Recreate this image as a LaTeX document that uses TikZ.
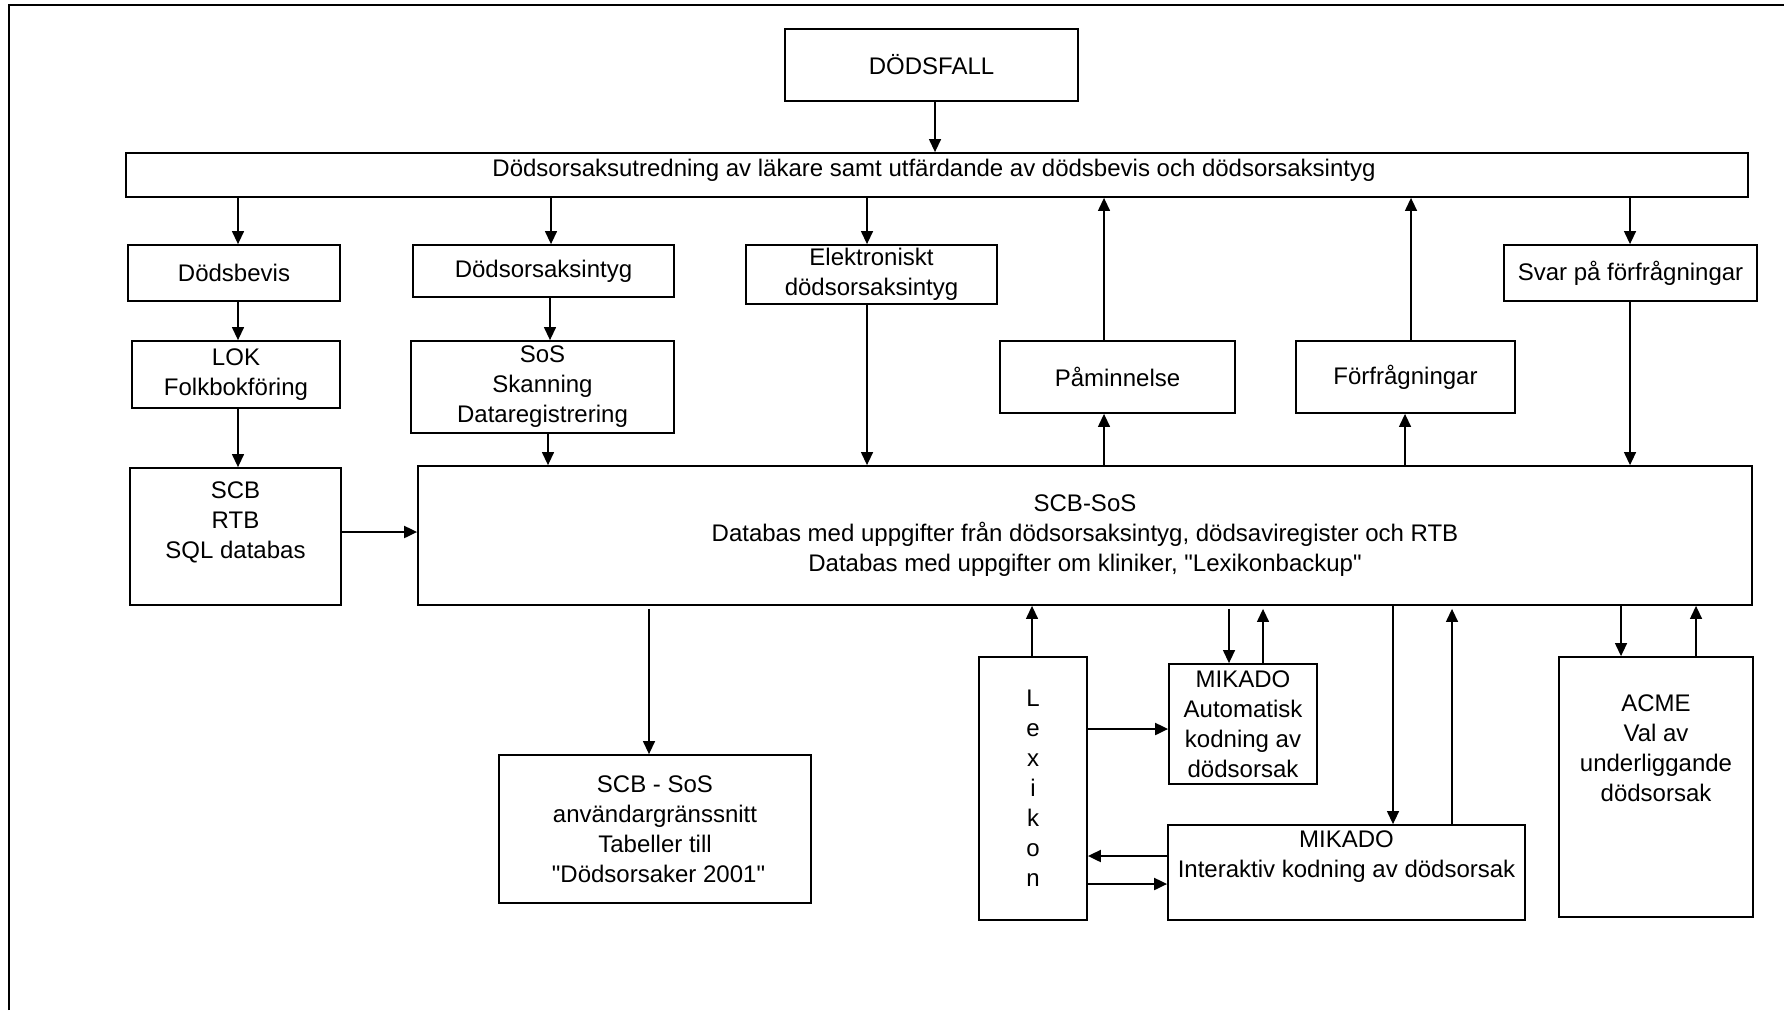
\documentclass[tikz,border=0pt]{standalone}
\usepackage{fontspec}
\setmainfont{Liberation Sans}
\newfontfamily\plainfont{Liberation Sans}
\usetikzlibrary{arrows.meta}
\newcommand\fs{\fontsize{24}{30}\selectfont}
\newcommand\qq{{\plainfont"}}
\begin{document}
\begin{tikzpicture}[x=1pt,y=-1pt,
  box/.style={draw, line width=1.8pt, inner sep=0pt, align=center, font=\fs},
  lbl/.style={inner sep=0pt, align=center, font=\fs},
  arr/.style={line width=1.3pt, -{Triangle[length=13pt,width=12pt]}},
  arrb/.style={line width=2pt, -{Triangle[length=13pt,width=12pt]}}]
\useasboundingbox (0,0) rectangle (1784,1010);
\draw[line width=2pt] (9,1010) -- (9,5) -- (1784,5);

\node[box, minimum width=293pt, minimum height=72pt] (dodsfall) at (931.5,65) {DÖDSFALL};
\node[box, minimum width=1622pt, minimum height=44pt] (utred) at (937,175) {};
\node[lbl] (utredt) at (934,170) {Dödsorsaksutredning av läkare samt utfärdande av dödsbevis och dödsorsaksintyg};
\node[box, minimum width=212pt, minimum height=56pt] (dodsbevis) at (234,273) {Dödsbevis};
\node[box, minimum width=261pt, minimum height=52pt] (intyg) at (543.5,271) {Dödsorsaksintyg};
\node[box, minimum width=251pt, minimum height=59pt] (elektr) at (871.5,274.5) {Elektroniskt\\dödsorsaksintyg};
\node[box, minimum width=253pt, minimum height=56pt] (svar) at (1630.5,273) {Svar på förfrågningar};
\node[box, minimum width=208pt, minimum height=67pt] (lok) at (236,374.5) {LOK\\Folkbokföring};
\node[box, minimum width=263pt, minimum height=92pt] (sos) at (542.5,387) {SoS\\Skanning\\Dataregistrering};
\node[box, minimum width=235pt, minimum height=72pt] (pamin) at (1117.5,377) {Påminnelse};
\node[box, minimum width=219pt, minimum height=72pt] (forfr) at (1405.5,377) {Förfrågningar};
\node[box, minimum width=211pt, minimum height=137pt] (scb) at (235.5,536.5) {};
\node[lbl] (scbt) at (235.5,522) {SCB\\RTB\\SQL databas};
\node[box, minimum width=1334pt, minimum height=139pt] (scbsos) at (1085,535.5) {SCB-SoS\\Databas med uppgifter från dödsorsaksintyg, dödsaviregister och RTB\\Databas med uppgifter om kliniker, \qq Lexikonbackup\qq};
\node[box, minimum width=312pt, minimum height=148pt] (granss) at (655,829) {SCB - SoS\\användargränssnitt\\Tabeller till\\\hspace*{7pt}\qq Dödsorsaker 2001\qq};
\node[box, minimum width=108pt, minimum height=263pt] (lexikon) at (1033,788.5) {L\\e\\x\\i\\k\\o\\n};
\node[box, minimum width=148pt, minimum height=120pt] (mauto) at (1243,724) {MIKADO\\Automatisk\\kodning av\\dödsorsak};
\node[box, minimum width=357pt, minimum height=95pt] (minter) at (1346.5,872.5) {};
\node[lbl] (mintert) at (1346.5,857) {MIKADO\\Interaktiv kodning av dödsorsak};
\node[box, minimum width=194pt, minimum height=260pt] (acme) at (1656,787) {};
\node[lbl] (acmet) at (1656,748) {ACME\\Val av\\underliggande\\dödsorsak};

\draw[arr] (dodsfall.south -| 935,0) -- (utred.north -| 935,0);
\draw[arr] (utred.south -| 238,0) -- (dodsbevis.north -| 238,0);
\draw[arr] (utred.south -| 551,0) -- (intyg.north -| 551,0);
\draw[arr] (utred.south -| 867,0) -- (elektr.north -| 867,0);
\draw[arr] (utred.south -| 1630,0) -- (svar.north -| 1630,0);
\draw[arr] (pamin.north -| 1104,0) -- (utred.south -| 1104,0);
\draw[arr] (forfr.north -| 1411,0) -- (utred.south -| 1411,0);
\draw[arr] (dodsbevis.south -| 238,0) -- (lok.north -| 238,0);
\draw[arr] (intyg.south -| 550,0) -- (sos.north -| 550,0);
\draw[arr] (lok.south -| 238,0) -- (scb.north -| 238,0);
\draw[arr] (sos.south -| 548,0) -- (scbsos.north -| 548,0);
\draw[arr] (elektr.south -| 867,0) -- (scbsos.north -| 867,0);
\draw[arr] (scbsos.north -| 1104,0) -- (pamin.south -| 1104,0);
\draw[arr] (scbsos.north -| 1405,0) -- (forfr.south -| 1405,0);
\draw[arr] (svar.south -| 1630,0) -- (scbsos.north -| 1630,0);
\draw[arrb] (scb.east |- 0,532) -- (scbsos.west |- 0,532);
\draw[arr, shorten <=3pt] (scbsos.south -| 649,0) -- (granss.north -| 649,0);
\draw[arr] (lexikon.north -| 1032,0) -- (scbsos.south -| 1032,0);
\draw[arr, shorten <=3pt] (scbsos.south -| 1229,0) -- (mauto.north -| 1229,0);
\draw[arr, shorten >=3pt] (mauto.north -| 1263,0) -- (scbsos.south -| 1263,0);
\draw[arrb] (lexikon.east |- 0,729) -- (mauto.west |- 0,729);
\draw[arr] (scbsos.south -| 1393,0) -- (minter.north -| 1393,0);
\draw[arr, shorten >=3pt] (minter.north -| 1452,0) -- (scbsos.south -| 1452,0);
\draw[arrb] (minter.west |- 0,856) -- (lexikon.east |- 0,856);
\draw[arrb] (lexikon.east |- 0,884) -- (minter.west |- 0,884);
\draw[arr] (scbsos.south -| 1621,0) -- (acme.north -| 1621,0);
\draw[arr] (acme.north -| 1696,0) -- (scbsos.south -| 1696,0);
\end{tikzpicture}
\end{document}
